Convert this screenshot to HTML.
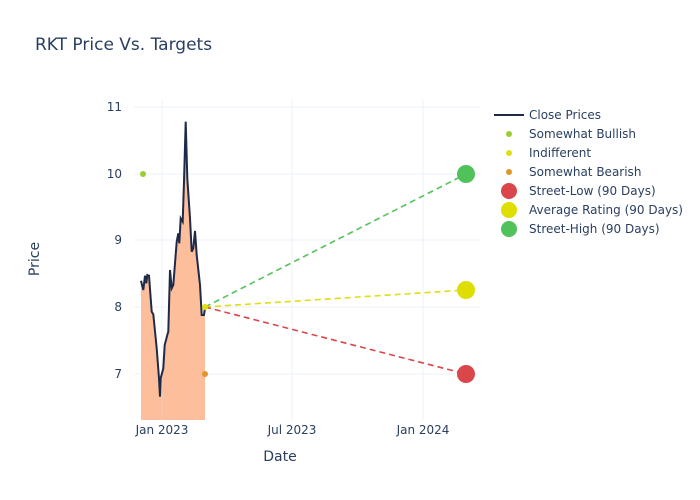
<!DOCTYPE html>
<html><head><meta charset="utf-8"><style>body{margin:0;background:#fff}svg{display:block;font-family:"DejaVu Sans","Liberation Sans",sans-serif}</style></head>
<body>
<svg width="700" height="500" viewBox="0 0 700 500">
<rect width="700" height="500" fill="#fff"/>
<g stroke="#ebf0f8" stroke-width="1">
<line x1="162" y1="100" x2="162" y2="420"/><line x1="292" y1="100" x2="292" y2="420"/><line x1="423" y1="100" x2="423" y2="420"/>
<line x1="134" y1="107" x2="480" y2="107"/><line x1="134" y1="174" x2="480" y2="174"/><line x1="134" y1="240" x2="480" y2="240"/><line x1="134" y1="307" x2="480" y2="307"/><line x1="134" y1="374" x2="480" y2="374"/>
</g>
<polygon fill="rgb(252,190,155)" points="141,420 141,280.7 143.3,290 145,275.7 146.3,283.3 147.3,275 149,275.7 151.7,311.7 153.3,314.3 156.7,348.3 159,378.3 160,396.7 160.7,378.3 163.3,368.3 164.7,345 167.3,335 168.3,331.7 170,270 171.7,288.3 173.3,285 176.7,241.7 178.3,233.3 179.3,243.3 180.7,218.3 182.7,221.7 184,181.7 185.7,121.7 187.3,178.3 190,218.3 191.7,251.7 193.3,248.3 195,231 196.7,255 200,285 201.7,315 204,315 205,307.7 205,420"/>
<line x1="162" y1="372" x2="162" y2="420" stroke="#f3c9b2" stroke-width="1"/>
<polyline fill="none" stroke="#1f2a48" stroke-width="2" points="141,280.7 143.3,290 145,275.7 146.3,283.3 147.3,275 149,275.7 151.7,311.7 153.3,314.3 156.7,348.3 159,378.3 160,396.7 160.7,378.3 163.3,368.3 164.7,345 167.3,335 168.3,331.7 170,270 171.7,288.3 173.3,285 176.7,241.7 178.3,233.3 179.3,243.3 180.7,218.3 182.7,221.7 184,181.7 185.7,121.7 187.3,178.3 190,218.3 191.7,251.7 193.3,248.3 195,231 196.7,255 200,285 201.7,315 204,315 205,307.7"/>
<g stroke-width="1.6" stroke-dasharray="6,4" fill="none">
<line x1="205" y1="307" x2="466" y2="174" stroke="#55c25b"/>
<line x1="205" y1="307" x2="466" y2="290" stroke="#dede12"/>
<line x1="205" y1="307" x2="466" y2="374" stroke="#d9474a"/>
</g>
<circle cx="143" cy="174" r="3" fill="#9acd32"/>
<circle cx="205" cy="307" r="3" fill="#dede12"/>
<circle cx="205" cy="374" r="3" fill="#e0962a"/>
<circle cx="466" cy="174" r="9" fill="#50c25a"/>
<circle cx="466" cy="290" r="9" fill="#dede00"/>
<circle cx="466" cy="374" r="9" fill="#d9474a"/>
<g fill="#2a3f5f" font-size="12">
<text x="35" y="50" font-size="17">RKT Price Vs. Targets</text>
<g text-anchor="end"><text x="122" y="111">11</text><text x="122" y="178">10</text><text x="122" y="244">9</text><text x="122" y="311">8</text><text x="122" y="378">7</text></g>
<g text-anchor="middle"><text x="162" y="434">Jan 2023</text><text x="292" y="434">Jul 2023</text><text x="423" y="434">Jan 2024</text>
<text x="280" y="461" font-size="14">Date</text></g>
<text transform="translate(39,259) rotate(-90)" text-anchor="middle" font-size="14">Price</text>
<line x1="494" y1="115" x2="524" y2="115" stroke="#1f2a48" stroke-width="2"/>
<circle cx="509" cy="134" r="3" fill="#9acd32"/><circle cx="509" cy="153" r="3" fill="#dede12"/><circle cx="509" cy="172" r="3" fill="#e0962a"/>
<circle cx="509" cy="191" r="8" fill="#d9474a"/><circle cx="509" cy="210" r="8" fill="#dede00"/><circle cx="509" cy="229" r="8" fill="#50c25a"/>
<text x="529" y="119">Close Prices</text><text x="529" y="138">Somewhat Bullish</text><text x="529" y="157">Indifferent</text><text x="529" y="176">Somewhat Bearish</text><text x="529" y="195">Street-Low (90 Days)</text><text x="529" y="214">Average Rating (90 Days)</text><text x="529" y="233">Street-High (90 Days)</text>
</g>
</svg>
</body></html>
